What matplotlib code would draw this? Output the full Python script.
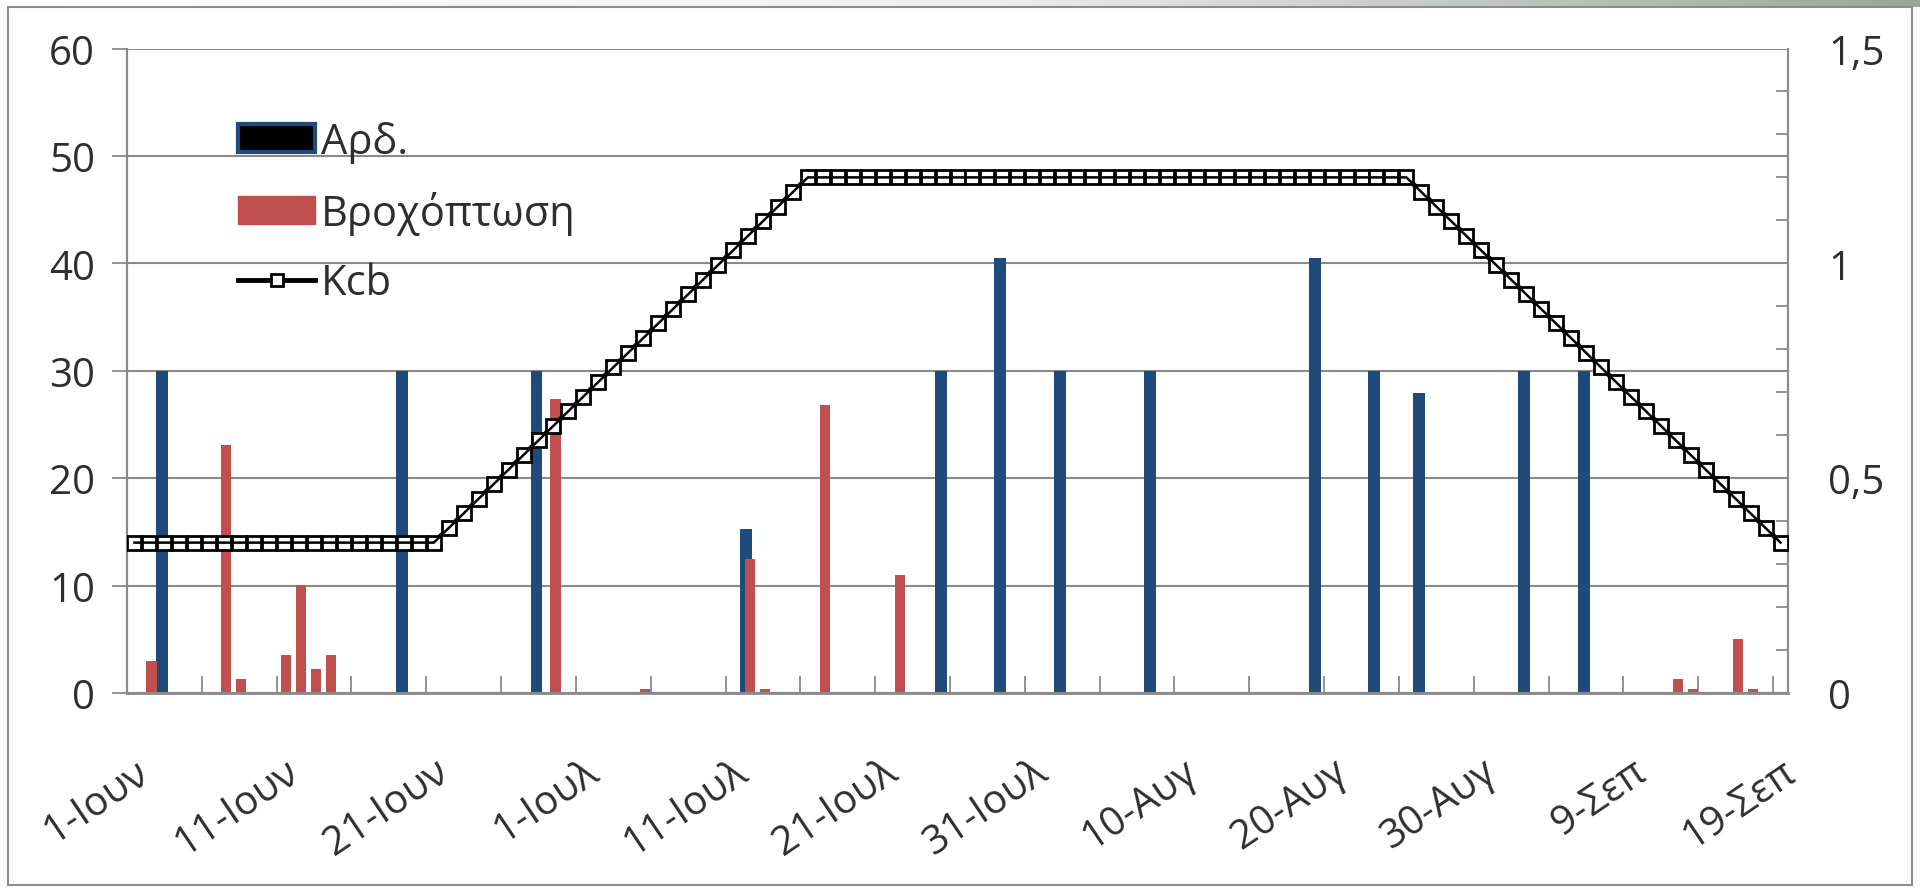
import numpy as np
import matplotlib.pyplot as plt
from matplotlib.patches import Patch, Rectangle
from matplotlib.lines import Line2D
from matplotlib.colors import LinearSegmentedColormap

plt.rcParams['font.family'] = ['Open Sans', 'DejaVu Sans']

n_days = 111  # 1 June .. 19 September
tick_labels = ['1-Ιουν', '11-Ιουν', '21-Ιουν', '1-Ιουλ', '11-Ιουλ', '21-Ιουλ',
               '31-Ιουλ', '10-Αυγ', '20-Αυγ', '30-Αυγ', '9-Σεπ', '19-Σεπ']

# irrigation events (day index from 1 June, mm)
irr_days = [2, 18, 27, 41, 54, 58, 62, 68, 79, 83, 86, 93, 97]
irr_mm = [30, 30, 30, 15.3, 30, 40.5, 30, 30, 40.5, 30, 27.9, 30, 30]

# rainfall events (day index, mm)
rain_days = [1, 6, 7, 10, 11, 12, 13, 28, 34, 41, 42, 46, 51, 103, 104, 107, 108]
rain_mm = [3.0, 23.1, 1.3, 3.5, 10.1, 2.2, 3.5, 27.4, 0.4, 12.5, 0.4, 26.8, 11.0,
           1.3, 0.4, 5.0, 0.4]

# basal crop coefficient, one value per day
kcb = ([0.35] * 21 +
       [0.384, 0.418, 0.452, 0.486, 0.52, 0.554, 0.588, 0.622, 0.656, 0.69,
        0.724, 0.758, 0.792, 0.826, 0.86, 0.894, 0.928, 0.962, 0.996, 1.03,
        1.064, 1.098, 1.132, 1.166, 1.2] +
       [1.2] * 40 +
       [1.166, 1.132, 1.098, 1.064, 1.03, 0.996, 0.962, 0.928, 0.894, 0.86,
        0.826, 0.792, 0.758, 0.724, 0.69, 0.656, 0.622, 0.588, 0.554, 0.52,
        0.486, 0.452, 0.418, 0.384, 0.35])

blue = '#1f4a7c'
red = '#c0504d'
grid_c = '#8a8a8a'
txt_c = '#2e2e2e'
fs = 29

fig = plt.figure(figsize=(19.2, 8.95), dpi=100)

# slide strip above the chart frame
strip = fig.add_axes([0, 1 - 8 / 895, 1, 8 / 895])
cmap = LinearSegmentedColormap.from_list('strip', ['#ffffff', '#f0f0f0', '#9ba69a'])
strip.imshow(np.linspace(0, 1, 256)[None, :], aspect='auto', cmap=cmap)
strip.axis('off')

fig.patches.append(Rectangle((8 / 1920, 9 / 895), 1904 / 1920, 878 / 895,
                             transform=fig.transFigure, fill=False,
                             ec='#8c8c8c', lw=1.5))

ax = fig.add_axes([127 / 1920, 1 - 694 / 895, 1661 / 1920, 644.5 / 895])
x = np.arange(n_days)
off = 0.135
ax.bar(np.array(irr_days) - off, irr_mm, width=0.8, color=blue, zorder=3)
ax.bar(np.array(rain_days) + off, rain_mm, width=0.68, color=red, zorder=4)

ax.set_xlim(-0.5, n_days - 0.5)
ax.set_ylim(0, 60)
ax.set_yticks(range(0, 61, 10))
ax.yaxis.grid(True, color=grid_c, lw=1.5, zorder=0)
ax.set_axisbelow(True)
ax.tick_params(axis='y', direction='out', length=11, width=1.3, color=grid_c,
               labelsize=fs, labelcolor=txt_c, pad=12)

ax.set_xticks(np.arange(-0.5, n_days - 0.5, 5))
ax.set_xticklabels([])
ax.set_xticks(np.arange(0, n_days, 10), minor=True)
ax.set_xticklabels(tick_labels, minor=True, rotation=34, ha='right',
                   rotation_mode='anchor', fontsize=fs, color=txt_c)
ax.tick_params(axis='x', which='major', direction='in', length=12, width=1.3,
               color=grid_c)
ax.tick_params(axis='x', which='minor', length=0, pad=42)

for s in ['left', 'right', 'bottom']:
    ax.spines[s].set_color(grid_c)
    ax.spines[s].set_linewidth(1.5)
ax.spines['bottom'].set_linewidth(2)
ax.spines['top'].set_visible(False)

ax2 = ax.twinx()
ax2.plot(x, kcb, color='black', lw=3.5, marker='s', ms=9.5, mfc='white',
         mec='black', mew=2, zorder=5)
ax2.plot(x, kcb, color='black', lw=1.8, zorder=6)
ax2.set_ylim(0, 1.5)
ax2.set_yticks([0, 0.5, 1, 1.5])
ax2.set_yticklabels(['0', '0,5', '1', '1,5'])
ax2.set_yticks(np.arange(0, 1.51, 0.1), minor=True)
ax2.tick_params(axis='y', which='major', length=0, labelsize=fs,
                labelcolor=txt_c, pad=29)
ax2.tick_params(axis='y', which='minor', direction='in', length=9, width=1.3,
                color=grid_c)
for s in ['left', 'right', 'bottom']:
    ax2.spines[s].set_color(grid_c)
    ax2.spines[s].set_linewidth(1.5)
ax2.spines['top'].set_visible(False)

handles = [Patch(facecolor='black', edgecolor=blue, lw=3),
           Patch(facecolor=red, edgecolor=red),
           Line2D([], [], color='black', lw=3.5, marker='s', ms=9, mfc='white',
                  mec='black', mew=2)]
ax2.legend(handles, ['Αρδ.', 'Βροχόπτωση', 'Kcb'], loc='upper left',
           bbox_to_anchor=(238 / 1920, 1 - 122 / 895),
           bbox_transform=fig.transFigure, frameon=False, fontsize=30,
           labelcolor=txt_c, handlelength=1.85, handleheight=0.66,
           handletextpad=0.15, labelspacing=0.66, borderaxespad=0,
           borderpad=0)

fig.savefig('out.png', dpi=100, facecolor='white')
